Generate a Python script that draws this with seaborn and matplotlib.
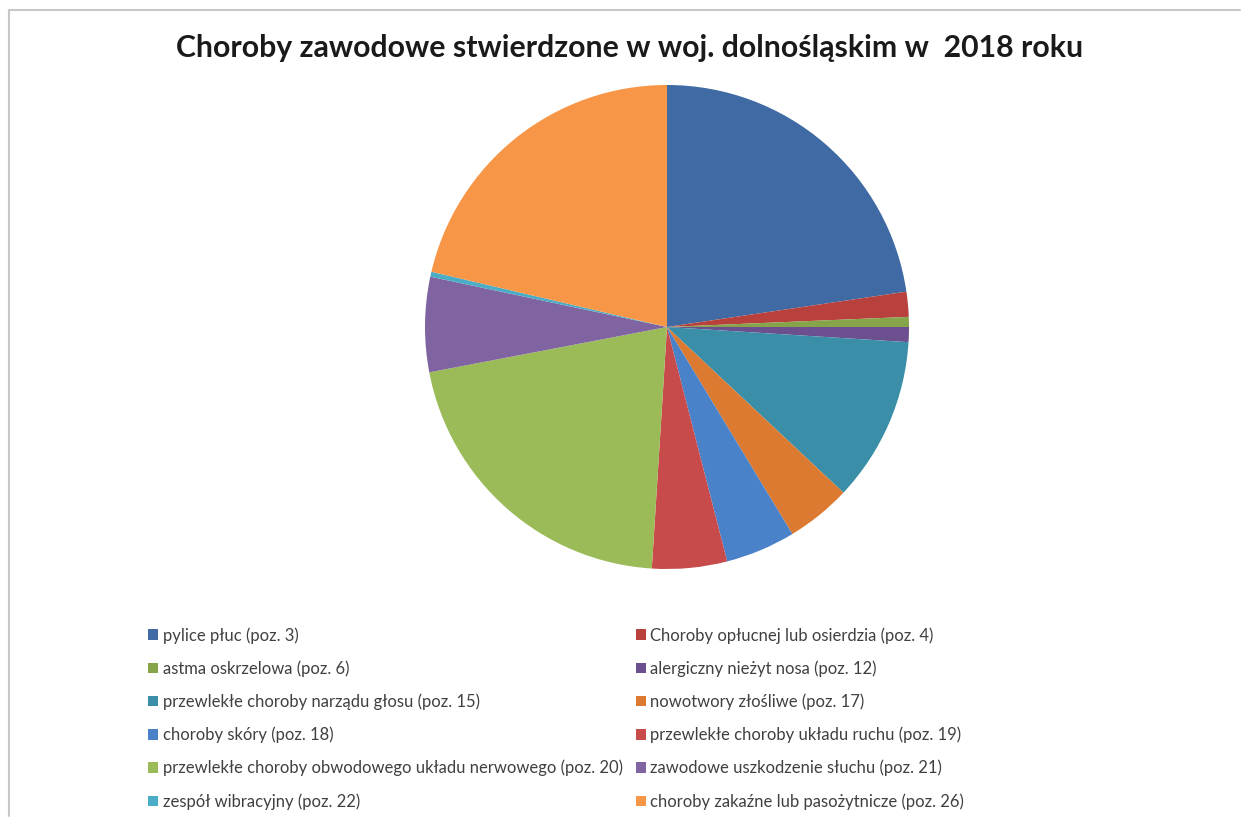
import matplotlib
matplotlib.use("Agg")
import matplotlib.pyplot as plt
from matplotlib.patches import Patch
from matplotlib.lines import Line2D
import seaborn as sns

categories = [
    "pylice płuc (poz. 3)",
    "Choroby opłucnej lub osierdzia (poz. 4)",
    "astma oskrzelowa (poz. 6)",
    "alergiczny nieżyt nosa (poz. 12)",
    "przewlekłe choroby narządu głosu (poz. 15)",
    "nowotwory złośliwe (poz. 17)",
    "choroby skóry (poz. 18)",
    "przewlekłe choroby układu ruchu (poz. 19)",
    "przewlekłe choroby obwodowego układu nerwowego (poz. 20)",
    "zawodowe uszkodzenie słuchu (poz. 21)",
    "zespół wibracyjny (poz. 22)",
    "choroby zakaźne lub pasożytnicze (poz. 26)",
]
values = [68, 5, 2, 3, 33, 13, 14, 15, 63, 19, 1, 64]
colors = ["#3F6AA3", "#B8413D", "#86A44A", "#6B4F8E", "#3A8EA7", "#DB7A30",
          "#4A82C9", "#C84B4B", "#9BBB59", "#8064A2", "#4BACC6", "#F79646"]
title = "Choroby zawodowe stwierdzone w woj. dolnośląskim w  2018 roku"

sns.set_theme(style="white")
plt.rcParams['font.family'] = ['Lato', 'DejaVu Sans']

W, H = 1244, 819
fig = plt.figure(figsize=(W / 100, H / 100), dpi=100)
fig.patch.set_facecolor("white")

# chart frame (top and left visible)
fig.add_artist(Line2D([9 / W, 1240 / W], [1 - 10 / H, 1 - 10 / H], color="#C8C8C8", lw=1.5))
fig.add_artist(Line2D([9 / W, 9 / W], [1 - 10 / H, 1 - 816 / H], color="#C8C8C8", lw=1.5))

cx, cy, r = 667, 327, 242
ax = fig.add_axes([(cx - r) / W, (H - cy - r) / H, 2 * r / W, 2 * r / H])
ax.pie(values, colors=colors, startangle=90, counterclock=False, radius=1,
       wedgeprops=dict(linewidth=0))
ax.set_xlim(-1, 1)
ax.set_ylim(-1, 1)
ax.set_aspect("equal")
ax.axis("off")

fig.text(630 / W, 1 - 48 / H, title, ha="center", va="center",
         fontsize=21.8, fontweight="bold", color="#1a1a1a")

# legend: two columns, row-major order
handles = [Patch(facecolor=c, edgecolor="none") for c in colors]
order = list(range(0, 12, 2)) + list(range(1, 12, 2))
leg = fig.legend([handles[i] for i in order], [categories[i] for i in order],
                 ncol=2, loc="upper left", bbox_to_anchor=(148 / W, 1 - 627 / H),
                 frameon=False, fontsize=12, handlelength=0.6, handleheight=0.6,
                 handletextpad=0.3, labelspacing=1.0, columnspacing=0.75,
                 borderaxespad=0, borderpad=0)
for t in leg.get_texts():
    t.set_color("#404040")

fig.savefig("out.png", dpi=100, facecolor="white")
